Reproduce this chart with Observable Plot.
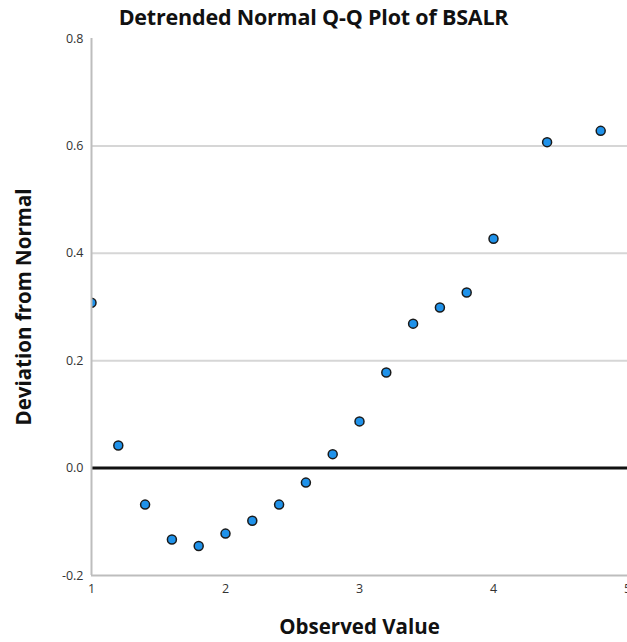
<!DOCTYPE html>
<html><head><meta charset="utf-8">
<script src="https://cdn.jsdelivr.net/npm/d3@7"></script>
<script src="https://cdn.jsdelivr.net/npm/@observablehq/plot@0.6"></script>
<style>
body{margin:0;background:#fff;}
#wrap{position:relative;width:627px;height:642px;overflow:hidden;}
#title{position:absolute;top:2px;left:0;width:627px;text-align:center;font:bold 21.5px "Open Sans";color:#111;z-index:2;letter-spacing:-0.2px;}
svg [aria-label="x-axis label"] text, svg [aria-label="y-axis label"] text{font:bold 20.5px "Open Sans";fill:#111;}
</style></head><body><div id="wrap"><div id="title">Detrended Normal Q-Q Plot of BSALR</div></div>
<script>
const observed = [1.0, 1.2, 1.4, 1.6, 1.8, 2.0, 2.2, 2.4, 2.6, 2.8, 3.0, 3.2, 3.4, 3.6, 3.8, 4.0, 4.4, 4.8];
const deviation = [0.308, 0.042, -0.068, -0.133, -0.145, -0.122, -0.098, -0.068, -0.027, 0.026, 0.087, 0.178, 0.269, 0.299, 0.327, 0.427, 0.607, 0.628];
const xTicks = [1, 2, 3, 4, 5];
const yTicks = [-0.2, 0.0, 0.2, 0.4, 0.6, 0.8];
const gridValues = [0.2, 0.4, 0.6];
const referenceLine = [0];
const data = observed.map((x, i) => ({x, y: deviation[i]}));

const chart = Plot.plot({
  width: 627, height: 642,
  marginLeft: 91, marginRight: 0, marginTop: 38, marginBottom: 67,
  style: {fontFamily: "Open Sans", fontSize: "12.5px", color: "#333", background: "#fff"},
  x: {domain: [1, 5], ticks: xTicks, tickSize: 0, tickPadding: 9, tickFormat: d => String(d), label: "Observed Value", labelAnchor: "center", labelArrow: "none", labelOffset: 58},
  y: {domain: [-0.2, 0.8], ticks: yTicks, tickSize: 0, tickPadding: 8, tickFormat: d => d.toFixed(1), label: "Deviation from Normal", labelAnchor: "center", labelArrow: "none", labelOffset: 75},
  marks: [
    Plot.ruleY(gridValues, {stroke: "#d6d6d6", strokeWidth: 2}),
    Plot.ruleY(referenceLine, {stroke: "#111", strokeWidth: 3}),
    Plot.dot(data, {x: "x", y: "y", r: 4.5, fill: "#1f92ea", stroke: "#1a1a1a", strokeWidth: 1.5, clip: true}),
    Plot.ruleX([xTicks[0]], {stroke: "#bdbdbd", strokeWidth: 2}),
    Plot.ruleY([yTicks[0]], {stroke: "#bdbdbd", strokeWidth: 2})
  ]
});
document.getElementById("wrap").appendChild(chart);
</script>
</body></html>
